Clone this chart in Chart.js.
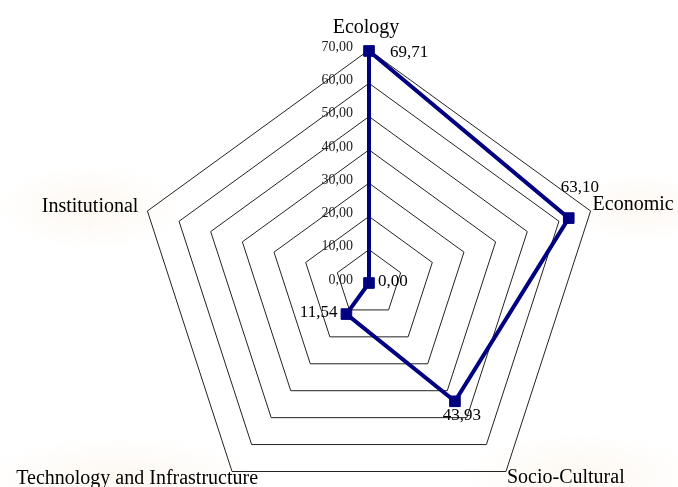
<!DOCTYPE html>
<html>
<head>
<meta charset="utf-8">
<script src="https://cdn.jsdelivr.net/npm/chart.js@4.4.1/dist/chart.umd.min.js"></script>
<style>
  html, body { margin: 0; padding: 0; background: #fff; }
  canvas { display: block; }
</style>
</head>
<body>
<canvas id="radar" width="678" height="487"></canvas>
<script>
// data
const categorias = ["Ecology", "Economic", "Socio-Cultural", "Technology and Infrastructure", "Institutional"];
const valores = [69.71, 63.10, 43.93, 11.54, 0.00];
const tickValores = [0, 10, 20, 30, 40, 50, 60, 70];

const serif = "'Liberation Serif', 'DejaVu Serif', serif";
const fmt = v => v.toFixed(2).replace(".", ",");

// label offsets (style only)
const catOffsets = [
    { dx: -3, dy: -22, align: "center" },
    { dx: 2, dy: -6, align: "left" },
    { dx: 1, dy: 6, align: "left" },
    { dx: 26, dy: 7, align: "right" },
    { dx: -9, dy: -4, align: "right" }
];
const valOffsets = [
    { dx: 21, dy: 2, align: "left" },
    { dx: 11, dy: -31, align: "center" },
    { dx: 7, dy: 14, align: "center" },
    { dx: -9, dy: -2, align: "right" },
    { dx: 9, dy: -1, align: "left" }
];

// =========================
// fundo com manchas suaves
// =========================
const fundo = {
    id: "fundo",
    beforeDraw(chart) {
        const ctx = chart.ctx;
        const blobs = [[90, 207, 95, 0.45], [580, 475, 120, 0.35], [120, 478, 140, 0.3], [640, 207, 70, 0.5]];
        blobs.forEach(b => {
            ctx.save();
            ctx.translate(b[0], b[1]);
            ctx.scale(1, b[3]);
            const g = ctx.createRadialGradient(0, 0, 0, 0, 0, b[2]);
            g.addColorStop(0, "rgba(251,240,226,0.5)");
            g.addColorStop(1, "rgba(251,240,226,0)");
            ctx.fillStyle = g;
            ctx.beginPath();
            ctx.arc(0, 0, b[2], 0, Math.PI * 2);
            ctx.fill();
            ctx.restore();
        });
    }
};

// =========================
// textos: ticks, categorias, valores
// =========================
const textos = {
    id: "textos",
    afterDatasetsDraw(chart) {
        const ctx = chart.ctx;
        const r = chart.scales.r;
        ctx.save();
        ctx.textBaseline = "middle";

        // tick labels
        ctx.font = "14px " + serif;
        ctx.fillStyle = "#222";
        ctx.textAlign = "right";
        tickValores.forEach(t => {
            const y = r.yCenter - r.getDistanceFromCenterForValue(t);
            ctx.fillText(fmt(t), r.xCenter - 16, y - 3);
        });

        // categorias
        ctx.font = "20px " + serif;
        ctx.fillStyle = "#000";
        categorias.forEach((c, i) => {
            const p = r.getPointPosition(i, r.drawingArea);
            const o = catOffsets[i];
            ctx.textAlign = o.align;
            ctx.fillText(c, p.x + o.dx, p.y + o.dy);
        });

        // valores
        ctx.font = "17px " + serif;
        ctx.fillStyle = "#000";
        valores.forEach((v, i) => {
            const p = r.getPointPosition(i, r.getDistanceFromCenterForValue(v));
            const o = valOffsets[i];
            ctx.textAlign = o.align;
            ctx.fillText(fmt(v), p.x + o.dx, p.y + o.dy);
        });
        ctx.restore();
    }
};

new Chart(document.getElementById("radar"), {
    type: "radar",
    data: {
        labels: categorias,
        datasets: [{
            data: valores,
            borderColor: "#000080",
            backgroundColor: "transparent",
            borderWidth: 4,
            fill: false,
            pointStyle: "rect",
            pointRadius: 7.5,
            pointBackgroundColor: "#000080",
            pointBorderColor: "#000080",
            pointBorderWidth: 1,
            tension: 0
        }]
    },
    options: {
        responsive: false,
        animation: false,
        plugins: {
            legend: { display: false },
            tooltip: { enabled: false }
        },
        scales: {
            r: {
                min: 0,
                max: 70,
                ticks: { stepSize: 10, display: false },
                grid: { color: "#222", lineWidth: 1, circular: false },
                angleLines: { display: false },
                pointLabels: { display: false },
                afterFit(scale) {
                    scale.xCenter = 369;
                    scale.yCenter = 283;
                    scale.drawingArea = 233;
                }
            }
        }
    },
    plugins: [fundo, textos]
});
</script>
</body>
</html>
